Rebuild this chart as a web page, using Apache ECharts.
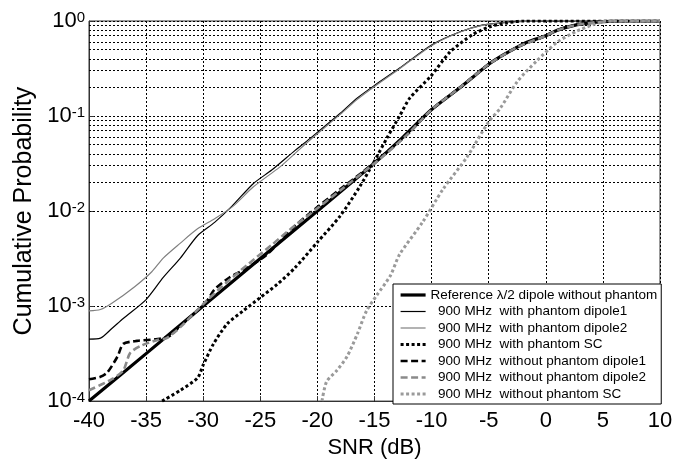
<!DOCTYPE html>
<html><head><meta charset="utf-8">
<script src="https://cdn.jsdelivr.net/npm/echarts@6/dist/echarts.min.js"></script>
<style>html,body{margin:0;padding:0;background:#fff}#c{width:688px;height:464px}</style>
</head><body><div id="c"></div>
<script>
// Series names (legend order)
const names = [
  'Reference \u03bb/2 dipole without phantom',
  '900 MHz  with phantom dipole1',
  '900 MHz  with phantom dipole2',
  '900 MHz  with phantom SC',
  '900 MHz  without phantom dipole1',
  '900 MHz  without phantom dipole2',
  '900 MHz  without phantom SC'
];
// [SNR dB, cumulative probability]
const refDipole = [[-40,1.0e-4],[-35,3.16e-4],[-30,1.0e-3],[-25,3.16e-3],[-20,1.0e-2],[-15,3.2e-2],[-12.5,0.060],[-10,0.117],[-7.5,0.20],[-5,0.35],[-4.3,0.40],[-2.5,0.53],[-1.6,0.60],[0,0.70],[1,0.80],[2.5,0.90],[4,0.96],[5,0.985],[6,0.998],[7,1],[10,1]];
const phDipole1 = [[-40,4.5e-4],[-39,4.6e-4],[-38,5.8e-4],[-37,7.4e-4],[-35,1.17e-3],[-33.5,2.0e-3],[-32,3.2e-3],[-30.5,5.5e-3],[-29,7.6e-3],[-27.5,1.12e-2],[-25.6,1.95e-2],[-24,2.7e-2],[-22,4.3e-2],[-20.5,6.0e-2],[-18,0.107],[-16.5,0.155],[-15,0.21],[-12.8,0.32],[-10,0.56],[-7.5,0.77],[-5.5,0.91],[-4,0.955],[-2,0.99],[0,1],[10,1]];
const phDipole2 = [[-40,8.9e-4],[-39,9.2e-4],[-38,1.07e-3],[-36,1.6e-3],[-34.5,2.3e-3],[-33.5,3.2e-3],[-32,4.6e-3],[-30.5,6.5e-3],[-29,8.3e-3],[-27.4,1.12e-2],[-25.6,1.8e-2],[-23.3,2.9e-2],[-22,4.0e-2],[-20.5,5.8e-2],[-18,0.104],[-16.5,0.15],[-15,0.205],[-12.8,0.315],[-10,0.55],[-7.5,0.765],[-5.5,0.905],[-4,0.95],[-2,0.988],[0,1],[10,1]];
const phSC = [[-33.6,1.0e-4],[-32,1.3e-4],[-30.5,1.75e-4],[-30,2.4e-4],[-29.1,4.0e-4],[-27.9,6.5e-4],[-26.5,8.9e-4],[-25,1.23e-3],[-23.5,1.7e-3],[-22,2.5e-3],[-20,4.7e-3],[-18,8.9e-3],[-16.3,1.8e-2],[-15.1,3.2e-2],[-13.9,5.9e-2],[-12.8,0.10],[-11.9,0.155],[-10.1,0.26],[-8.4,0.47],[-6.4,0.72],[-4.9,0.87],[-3.4,0.955],[-2,1],[10,1]];
const noDipole1 = [[-40,1.7e-4],[-39,1.8e-4],[-38.4,2.0e-4],[-37.5,2.95e-4],[-37,4.0e-4],[-35.8,4.3e-4],[-34,4.5e-4],[-33,4.8e-4],[-32,6.2e-4],[-31,7.9e-4],[-29.7,1.12e-3],[-29,1.5e-3],[-27.7,2.0e-3],[-26.2,2.5e-3],[-24.4,3.5e-3],[-22,6.9e-3],[-20,1.1e-2],[-18,1.7e-2],[-16,2.6e-2],[-14,4.1e-2],[-12,0.066],[-10,0.117],[-7.5,0.20],[-5,0.35],[-2.5,0.53],[0,0.70],[1,0.80],[2.5,0.90],[4,0.96],[5,0.985],[6,0.998],[7,1],[10,1]];
const noDipole2 = [[-40,1.3e-4],[-38,1.7e-4],[-37,2.1e-4],[-36.4,3.2e-4],[-35.5,3.8e-4],[-34,4.4e-4],[-33.2,4.6e-4],[-32,6.0e-4],[-30,1.05e-3],[-28,1.75e-3],[-26,2.8e-3],[-24,4.4e-3],[-22,7.0e-3],[-20,1.07e-2],[-18,1.65e-2],[-16,2.55e-2],[-14,4.0e-2],[-12,0.066],[-10,0.117],[-7.5,0.20],[-5,0.35],[-2.5,0.53],[0,0.70],[1,0.80],[2.5,0.90],[4,0.96],[5,0.985],[6,0.998],[7,1],[10,1]];
const noSC = [[-19.6,1.0e-4],[-19.2,1.6e-4],[-18.3,2.1e-4],[-17.4,2.95e-4],[-16.5,5.1e-4],[-15.7,8.9e-4],[-14.8,1.3e-3],[-13.6,2.1e-3],[-12.8,3.5e-3],[-10.8,7.6e-3],[-9,1.7e-2],[-6.9,3.7e-2],[-5,0.087],[-4,0.12],[-2.5,0.23],[-0.8,0.38],[1,0.60],[2.7,0.78],[4.1,0.91],[5.4,1],[10,1]];
const seriesData = [refDipole, phDipole1, phDipole2, phSC, noDipole1, noDipole2, noSC];

// Minor log grid positions (2..9 per decade)
const minorGrid = [];
[1e-4,1e-3,1e-2,1e-1].forEach(d => { for (let m = 2; m <= 9; m++) minorGrid.push(+(m*d).toPrecision(3)); });

const FONT = '"Liberation Sans", Arial, sans-serif';
const styles = [
  {color:'#000', width:3.2, type:'solid'},
  {color:'#000', width:1.2, type:'solid'},
  {color:'#808080', width:1.2, type:'solid'},
  {color:'#000', width:3, type:[3,2.5]},
  {color:'#000', width:2.6, type:[7,3.5]},
  {color:'#8a8a8a', width:2.6, type:[7,3.5]},
  {color:'#9a9a9a', width:3, type:[3,2.5]}
];
const gridStyle = {color:'#000', width:1, type:[2,2]};

const series = [{
  name:'_grid', type:'line', data:[[-40,1e-4]], symbol:'none', silent:true, z:1,
  lineStyle:{opacity:0},
  markLine:{silent:true, symbol:'none', label:{show:false}, lineStyle:gridStyle, animation:false,
    data: minorGrid.map(v => ({yAxis:v}))}
}];
names.forEach((n, i) => {
  series.push({
    name:n, type:'line', data:seriesData[i], symbol:'none', smooth:0.25, z:3+i,
    lineStyle:{color:styles[i].color, width:styles[i].width, type:styles[i].type, cap:'butt'},
    itemStyle:{color:styles[i].color}
  });
});

const chart = echarts.init(document.getElementById('c'), null, {renderer:'canvas'});
chart.setOption({
  animation:false,
  backgroundColor:'#fff',
  grid:{left:89, right:28, top:21, bottom:55, show:true, borderColor:'#333', borderWidth:1, backgroundColor:'#fff'},
  xAxis:{
    type:'value', min:-40, max:10, interval:5,
    name:'SNR (dB)', nameLocation:'middle', nameGap:35,
    nameTextStyle:{fontSize:22, color:'#000', fontFamily:FONT},
    axisLine:{onZero:false, lineStyle:{color:'#333'}},
    axisTick:{inside:true, length:5, lineStyle:{color:'#333'}},
    axisLabel:{fontSize:22, color:'#000', fontFamily:FONT, margin:9},
    splitLine:{show:true, lineStyle:gridStyle}
  },
  yAxis:{
    type:'log', logBase:10, min:1e-4, max:1,
    name:'Cumulative Probability', nameLocation:'middle', nameGap:51,
    nameTextStyle:{fontSize:25, color:'#000', fontFamily:FONT},
    axisLine:{onZero:false, lineStyle:{color:'#333'}},
    axisTick:{inside:true, length:5, lineStyle:{color:'#333'}},
    axisLabel:{
      margin:4, fontFamily:FONT,
      formatter: v => '{b|10}{s|' + Math.round(Math.log10(v)) + '}',
      rich:{
        b:{fontSize:22, color:'#000', fontFamily:FONT, verticalAlign:'bottom', lineHeight:22},
        s:{fontSize:15, color:'#000', fontFamily:FONT, verticalAlign:'top', lineHeight:15, padding:[0,0,14,0]}
      }
    },
    splitLine:{show:true, lineStyle:gridStyle}
  },
  legend:{
    data:names, orient:'vertical', left:393, top:284,
    itemWidth:25, itemHeight:14, itemGap:2.5,
    padding:[4,4,3,6],
    backgroundColor:'#fff', borderColor:'#000', borderWidth:1,
    itemStyle:{color:'rgba(0,0,0,0)', borderWidth:0, opacity:0},
    lineStyle:{width:'inherit'},
    textStyle:{fontSize:13.5, color:'#000', fontFamily:FONT},
    formatter: n => (n === names[0] ? n : '  ' + n),
    selectedMode:false
  },
  series: series
});
</script>
</body></html>
